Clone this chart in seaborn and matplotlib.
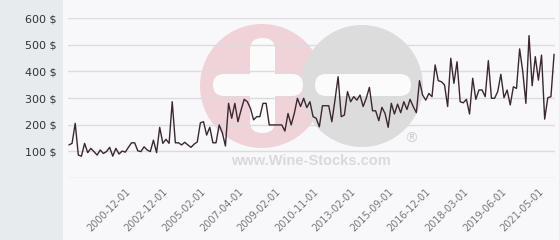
import numpy as np
import pandas as pd
import matplotlib
matplotlib.use("Agg")
import matplotlib.pyplot as plt
import seaborn as sns
from matplotlib.patches import Circle, Rectangle, FancyBboxPatch

# ---- data ----
prices = [
    124, 130, 205, 86, 82, 130, 95, 111, 99, 86, 105, 92, 99, 115, 82, 111, 90, 101, 97, 115, 132, 132, 102, 99,
    117, 105, 99, 142, 95, 190, 130, 145, 130, 286, 132, 132, 124, 134, 124, 115, 127, 135, 207, 211, 161, 190, 132,
    132, 199, 170, 120, 280, 224, 280, 211, 255, 295, 286, 261, 218, 230, 230, 280, 280, 199, 199, 199, 199, 199,
    176, 242, 199, 242, 299, 268, 299, 264, 286, 230, 224, 192, 271, 271, 271, 211, 292, 380, 230, 236, 324, 286, 305, 292,
    311, 268, 299, 340, 252, 252, 215, 265, 242, 190, 280, 240, 277, 245, 286, 257, 295, 268, 245, 365, 311, 292,
    317, 305, 424, 365, 361, 349, 268, 449, 355, 436, 286, 282, 295, 240, 374, 295, 330, 330, 305, 440, 299, 299,
    324, 389, 301, 330, 274, 342, 336, 484, 399, 280, 534, 346, 455, 367, 461, 221, 301, 305, 464,
]
tick_labels = ["2000-12-01", "2002-12-01", "2005-02-01", "2007-04-01", "2009-02-01", "2010-11-01",
               "2013-02-01", "2015-09-01", "2016-12-01", "2018-03-01", "2019-06-01", "2021-05-01"]
first_tick = 18
tick_step = 12
y_ticks = [100, 200, 300, 400, 500, 600]

df = pd.DataFrame({"idx": np.arange(len(prices)), "price": prices})

sns.set_theme(style="white")
plt.rcParams["font.family"] = ["DejaVu Sans"]

W, H = 560, 240
fig = plt.figure(figsize=(W / 100, H / 100), dpi=100, facecolor="#f8f8fb")

# background / watermark layer in pixel coordinates
bg = fig.add_axes([0, 0, 1, 1], zorder=0)
bg.set_xlim(0, W)
bg.set_ylim(H, 0)
bg.axis("off")
bg.add_patch(Rectangle((0, 0), 63, H, color="#e7ebee", lw=0))
bg.add_patch(Rectangle((63, 0), W - 63, H, color="#f8f8fb", lw=0))
bg.plot([559.5, 559.5], [0, H], color="#c8c8c8", lw=1)
# watermark
bg.add_patch(Circle((262, 86), 62, color="#efd3d9", lw=0))
bg.add_patch(Circle((362, 86), 61, color="#dcdcdc", lw=0))
bg.add_patch(FancyBboxPatch((213, 74), 90, 22, boxstyle="round,pad=0,rounding_size=11", color="#fbfbfc", lw=0))
bg.add_patch(FancyBboxPatch((250, 38), 25, 95, boxstyle="round,pad=0,rounding_size=12", color="#fbfbfc", lw=0))
bg.add_patch(FancyBboxPatch((315, 74), 96, 22, boxstyle="round,pad=0,rounding_size=11", color="#fbfbfc", lw=0))
bg.text(311, 161, "www.Wine-Stocks.com", ha="center", va="center", fontsize=10.5,
        fontweight="bold", color="#d9d9d9", family="Liberation Sans")
bg.text(411, 139, "®", ha="center", va="center", fontsize=10, color="#d0d0d0")

ax = fig.add_axes([68 / W, (H - 178) / H, (555 - 68) / W, 160 / H], zorder=1)
ax.set_facecolor("none")
sns.lineplot(data=df, x="idx", y="price", ax=ax, color="#3b2730", lw=1)

ax.set_ylim(0, 600)
ax.set_xlim(-0.3, len(prices) - 1 + 0.3)
ax.set_yticks([0] + y_ticks)
ax.set_yticklabels([""] + [f"{v} $" for v in y_ticks], fontsize=8, color="#333333")
ax.yaxis.grid(True, color="#dcdcdc", lw=1)
ax.xaxis.grid(False)
pos = [first_tick + i * tick_step for i in range(len(tick_labels))]
ax.set_xticks(pos)
ax.set_xticklabels(tick_labels, rotation=45, ha="right", rotation_mode="anchor",
                   fontsize=7, color="#777777")
ax.tick_params(axis="both", length=0)
ax.tick_params(axis="y", pad=8)
ax.tick_params(axis="x", pad=6)
ax.set_xlabel("")
ax.set_ylabel("")
for s in ax.spines.values():
    s.set_visible(False)

fig.savefig("out.png", dpi=100, facecolor=fig.get_facecolor())
